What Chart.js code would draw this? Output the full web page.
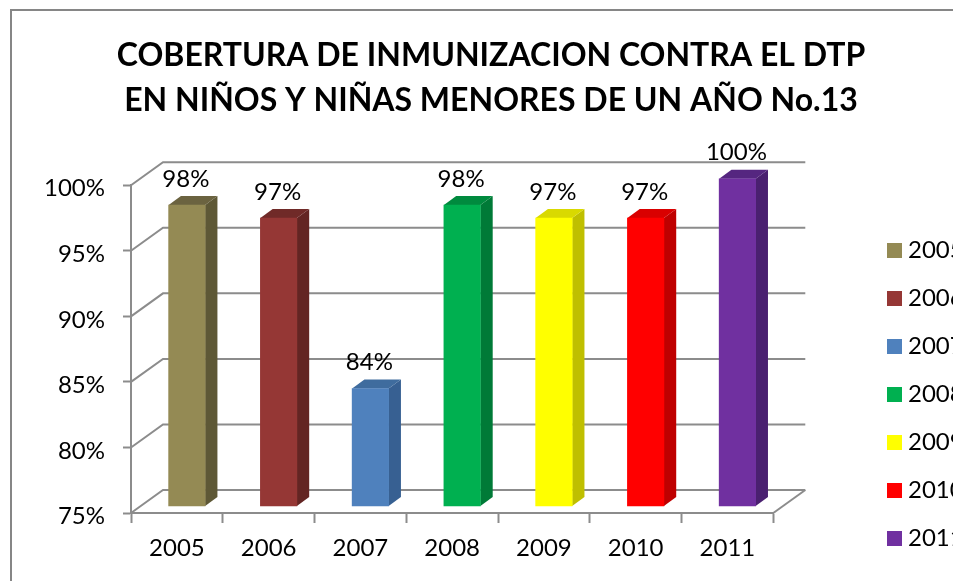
<!DOCTYPE html>
<html><head><meta charset="utf-8">
<script src="https://cdn.jsdelivr.net/npm/chart.js@4"></script>
<style>html,body{margin:0;padding:0;background:#fff;overflow:hidden}canvas{display:block}</style>
</head><body><canvas id="c" width="953" height="581"></canvas>
<script>
const titleLines = ["COBERTURA DE INMUNIZACION CONTRA EL DTP","EN NIÑOS Y NIÑAS MENORES DE UN AÑO No.13"];
const years = ["2005","2006","2007","2008","2009","2010","2011"];
const coverage = [98,97,84,98,97,97,100];
const faceColors = ["#948A54","#953735","#4F81BD","#00B050","#FFFF00","#FF0000","#7030A0"];
const sideColors = ["#5E5836","#632523","#376092","#007A37","#BFBF00","#BF0000","#4A2070"];
const topColors  = ["#6B6340","#702A28","#3F6C9E","#008A3E","#D9D900","#D90000","#552680"];
const FONT = "Lato";
const GRID = "#8C8C8C";
const WALL = {dx:32, dy:-23};
const BAR_SHIFT = {dx:10, dy:-6.5};
const BAR_DEPTH = {dx:12.3, dy:-9};

const frame3d = {
  id:"frame3d",
  afterLayout(chart){
    const lg = chart.legend, tb = chart.titleBlock;
    lg.left = 893 - lg.options.labels.padding; lg.right = lg.left + lg.width;
    lg.top = 238.5 - lg.options.labels.padding; lg.bottom = lg.top + lg.height;
    const cx = 491 - (tb.left + tb.right)/2; tb.left += cx; tb.right += cx;
  },
  beforeDraw(chart){
    const {ctx, chartArea:a, scales:{y}} = chart;
    ctx.save();
    ctx.strokeStyle = "#868686"; ctx.lineWidth = 2;
    ctx.strokeRect(11,10,2000,2000);
    ctx.strokeStyle = GRID; ctx.lineWidth = 2;
    y.ticks.forEach(t=>{
      const py = y.getPixelForValue(t.value);
      ctx.beginPath();
      ctx.moveTo(a.left,py);
      ctx.lineTo(a.left+WALL.dx,py+WALL.dy);
      ctx.lineTo(a.right+WALL.dx,py+WALL.dy);
      ctx.stroke();
    });
    const py0 = y.getPixelForValue(y.min);
    ctx.beginPath();
    ctx.moveTo(a.right,py0);
    ctx.lineTo(a.right+WALL.dx,py0+WALL.dy);
    ctx.stroke();
    ctx.restore();
  },
  beforeDatasetDraw(chart,args){
    const ctx = chart.ctx;
    ctx.save();
    ctx.translate(BAR_SHIFT.dx,BAR_SHIFT.dy);
    const meta = chart.getDatasetMeta(args.index);
    meta.data.forEach((b,i)=>{
      const half = b.width/2, r = b.x+half, l = b.x-half, t = b.y, bt = b.base;
      const dx = BAR_DEPTH.dx, dy = BAR_DEPTH.dy;
      ctx.fillStyle = sideColors[i];
      ctx.beginPath();
      ctx.moveTo(r,t);ctx.lineTo(r+dx,t+dy);ctx.lineTo(r+dx,bt+dy);ctx.lineTo(r,bt);ctx.closePath();ctx.fill();
      ctx.fillStyle = topColors[i];
      ctx.beginPath();
      ctx.moveTo(l,t);ctx.lineTo(l+dx,t+dy);ctx.lineTo(r+dx,t+dy);ctx.lineTo(r,t);ctx.closePath();ctx.fill();
    });
  },
  afterDatasetDraw(chart,args){
    const ctx = chart.ctx;
    const meta = chart.getDatasetMeta(args.index);
    ctx.fillStyle = "#000";
    ctx.font = "24px "+FONT;
    ctx.textAlign = "center"; ctx.textBaseline = "middle";
    meta.data.forEach((b,i)=>ctx.fillText(coverage[i]+"%",b.x-1,b.y-26));
    ctx.restore();
  }
};

const chart = new Chart(document.getElementById("c"),{
  type:"bar",
  plugins:[frame3d],
  data:{labels:years,datasets:[{
    data:coverage,
    base:75,
    backgroundColor:faceColors,
    barThickness:36.5,
    clip:false
  }]},
  options:{
    responsive:false,animation:false,
    layout:{padding:{left:30,right:0,top:0,bottom:0}},
    plugins:{
      tooltip:{enabled:false},
      title:{display:true,text:titleLines,color:"#000",
        font:{family:FONT,size:32,weight:"bold",lineHeight:1.41},
        padding:{top:33,bottom:62}},
      legend:{display:true,position:"right",align:"start",
        labels:{font:{family:FONT,size:24},color:"#000",padding:24,boxWidth:3,boxHeight:3,
          generateLabels:()=>years.map((yr,i)=>({text:yr,fillStyle:faceColors[i],strokeStyle:faceColors[i],lineWidth:12,index:i,hidden:false}))}}
    },
    scales:{
      x:{
        afterFit(s){s.height=68},
        grid:{display:true,offset:true,drawOnChartArea:false,drawTicks:true,tickLength:10,tickWidth:2,tickColor:GRID},
        border:{color:GRID,width:2},
        ticks:{font:{family:FONT,size:24},color:"#000",padding:11,maxRotation:0}
      },
      y:{
        min:75,max:100,
        afterFit(s){s.width=101},
        grid:{drawOnChartArea:false,drawTicks:true,tickLength:8,tickWidth:2,tickColor:GRID},
        border:{color:GRID,width:2},
        ticks:{stepSize:5,font:{family:FONT,size:24,lineHeight:0.29},color:"#000",padding:18,callback:v=>["",v+"%"]}
      }
    }
  }
});
chart.options.layout.padding.right = 953 - 773.3 - chart.legend.width;
chart.update();
</script></body></html>
